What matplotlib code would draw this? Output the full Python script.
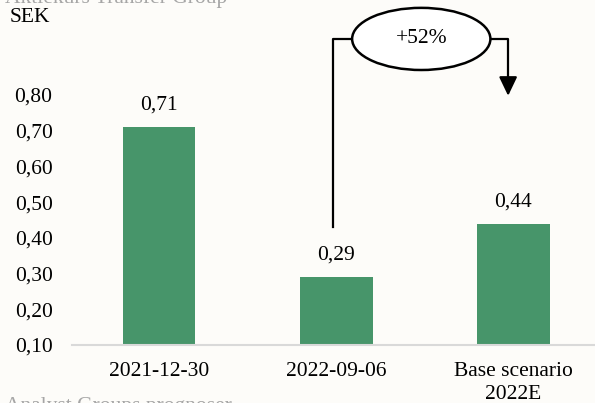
import matplotlib
matplotlib.use('Agg')
from matplotlib import pyplot as plt
from matplotlib.patches import Ellipse

# data
categories = ['2021-12-30', '2022-09-06', 'Base scenario\n2022E']
values = [0.71, 0.29, 0.44]
value_labels = ['0,71', '0,29', '0,44']
yticks = [0.10, 0.20, 0.30, 0.40, 0.50, 0.60, 0.70, 0.80]
change_label = '+52%'

bar_color = '#47956A'
bg = '#FDFCF9'

plt.rcParams['font.family'] = ['Liberation Serif', 'DejaVu Serif']

fig = plt.figure(figsize=(5.95, 4.03), dpi=100, facecolor=bg)
ax = fig.add_axes([72 / 595, 58 / 403, 523 / 595, 250 / 403])
ax.set_facecolor(bg)

x = list(range(len(categories)))
ax.bar(x, [v - 0.10 for v in values], bottom=0.10, width=0.41, color=bar_color, zorder=2)

ax.set_xlim(-0.49, 2.46)
ax.set_ylim(0.10, 0.80)
ax.set_yticks(yticks)
ax.yaxis.set_major_formatter(matplotlib.ticker.FuncFormatter(lambda v, p: ('%.2f' % v).replace('.', ',')))
ax.set_xticks(x)
ax.set_xticklabels(categories, linespacing=1.3)
ax.tick_params(length=0, labelsize=15.5, colors='black')
ax.tick_params(axis='x', pad=12)
ax.tick_params(axis='y', pad=14)

for s in ['top', 'right', 'left']:
    ax.spines[s].set_visible(False)
ax.spines['bottom'].set_color('#D9D9D9')
ax.spines['bottom'].set_linewidth(1.5)

for xi, v, lab in zip(x, values, value_labels):
    ax.annotate(lab, (xi, v), xytext=(0, 9), textcoords='offset points',
                ha='center', va='bottom', fontsize=15.5)

# change bracket between 2022-09-06 and base scenario
x_left = x[1] - 0.02
x_right = x[2] - 0.03
y_top = 0.957
ax.plot([x_left, x_left, x_right - 0.5], [0.431, y_top, y_top], color='black', lw=1.6, clip_on=False, zorder=3)
ax.plot([x_right - 0.5, x_right, x_right], [y_top, y_top, 0.84], color='black', lw=1.6, clip_on=False, zorder=3)
ax.annotate('', xy=(x_right, 0.79), xytext=(x_right, 0.845),
            arrowprops=dict(arrowstyle='-|>,head_length=1.15,head_width=0.55', color='black', lw=1.6),
            annotation_clip=False)
ell = Ellipse((1.48, y_top), 0.78, 0.174, facecolor='white', edgecolor='black', lw=1.8,
              clip_on=False, zorder=4)
ax.add_patch(ell)
ax.text(1.48, y_top, change_label, ha='center', va='center', fontsize=15.5, zorder=5, clip_on=False)

fig.text(10 / 595, 1 - 17 / 403, 'SEK', fontsize=15.5, va='center', ha='left')
fig.text(5 / 595, 1 + 2 / 403, 'Aktiekurs Transfer Group', fontsize=15.5, color='#A6A6A6', va='center', ha='left')
fig.text(5 / 595, -3 / 403, 'Analyst Groups prognoser', fontsize=15.5, color='#A6A6A6', va='center', ha='left')

fig.savefig('out.png', dpi=100, facecolor=bg)
